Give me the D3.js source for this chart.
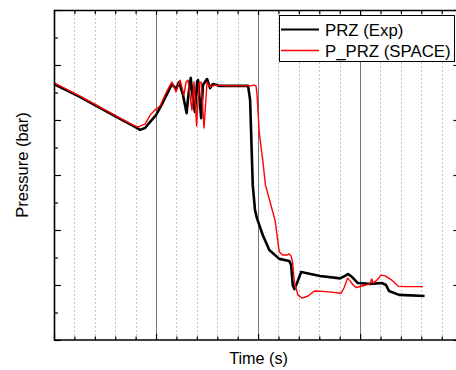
<!DOCTYPE html>
<html>
<head>
<meta charset="utf-8">
<script src="https://cdn.jsdelivr.net/npm/d3@7"></script>
<style>
  body { margin: 0; background: #fff; }
  text { font-family: "Liberation Sans", Arial, sans-serif; }
</style>
</head>
<body>
<div id="wrapper"></div>
<script>
// experimental PRZ pressure (black, noisy)
const timeExp = [0, 127, 225, 324, 397, 422, 446, 471, 500, 529, 559, 578, 598, 613, 632, 650, 657, 670, 681, 691, 701, 706, 721, 730, 740, 750, 765, 779, 814, 887, 951, 961, 974, 985, 994, 1023, 1055, 1104, 1153, 1162, 1170, 1178, 1191, 1211, 1304, 1402, 1426, 1441, 1461, 1489, 1544, 1608, 1627, 1642, 1691, 1816];
const presExp = [9.31, 8.84, 8.44, 8.04, 7.75, 7.64, 7.71, 7.93, 8.18, 8.58, 9.02, 9.31, 9.13, 9.38, 8.91, 8.25, 8.80, 9.53, 8.73, 8.29, 9.38, 9.45, 8.07, 9.27, 9.38, 9.49, 9.16, 9.31, 9.24, 9.24, 9.24, 8.73, 5.64, 4.73, 4.44, 3.82, 3.27, 2.95, 2.87, 2.73, 2.00, 1.85, 2.07, 2.47, 2.33, 2.24, 2.33, 2.40, 2.29, 2.07, 2.04, 2.07, 2.00, 1.78, 1.64, 1.60];

// SPACE code result (red)
const timeSpace = [0, 127, 225, 324, 397, 412, 446, 471, 495, 520, 544, 569, 578, 598, 618, 637, 647, 657, 676, 686, 699, 711, 721, 735, 750, 765, 789, 863, 961, 980, 990, 995, 1006, 1023, 1036, 1059, 1083, 1093, 1104, 1121, 1142, 1153, 1162, 1169, 1178, 1195, 1216, 1245, 1276, 1333, 1407, 1421, 1439, 1451, 1466, 1480, 1529, 1549, 1557, 1564, 1583, 1603, 1623, 1655, 1686, 1721, 1808];
const presSpace = [9.35, 8.87, 8.47, 8.07, 7.78, 7.75, 7.85, 8.18, 8.36, 8.51, 8.91, 9.27, 9.38, 9.02, 9.45, 8.91, 9.38, 9.45, 8.36, 9.38, 7.78, 9.35, 9.38, 7.71, 9.38, 9.20, 9.27, 9.24, 9.24, 9.27, 9.24, 8.91, 7.53, 6.55, 5.64, 5.02, 4.36, 3.82, 3.20, 3.09, 3.09, 3.13, 3.05, 2.84, 2.11, 1.64, 1.52, 1.60, 1.78, 1.76, 1.70, 1.89, 2.25, 2.15, 2.00, 1.91, 2.00, 2.05, 2.22, 2.07, 2.18, 2.36, 2.33, 2.18, 1.96, 1.94, 1.94];

const seriesNames = ["PRZ (Exp)", "P_PRZ (SPACE)"];

// ticks (labels are not shown in the original)
const xMajorTicks = [0, 500, 1000, 1500];
const xMinorTicks = d3.range(100, 1970, 100).filter(t => t % 500 !== 0);
const yMajorTicks = [0, 2, 4, 6, 8, 10, 12];
const yMinorTicks = [1, 3, 5, 7, 9, 11];

function drawChart() {
  let dimensions = {
    width: 456,
    height: 370,
    margins: { top: 10, left: 54, bottom: 30, right: 0 }
  };
  dimensions.boundedWidth = dimensions.width - dimensions.margins.left - dimensions.margins.right;
  dimensions.boundedHeight = dimensions.height - dimensions.margins.top - dimensions.margins.bottom;

  const svg = d3.select("#wrapper").append("svg")
    .attr("width", dimensions.width)
    .attr("height", dimensions.height);

  const bounds = svg.append("g")
    .attr("transform", `translate(${dimensions.margins.left},${dimensions.margins.top})`);

  const xScale = d3.scaleLinear()
    .domain([0, 1970])
    .range([0, dimensions.boundedWidth]);

  const yScale = d3.scaleLinear()
    .domain([0, 12])
    .range([dimensions.boundedHeight, 0]);

  // vertical grid lines
  bounds.append("g")
    .selectAll("line")
    .data(xMinorTicks)
    .join("line")
    .attr("x1", d => Math.round(xScale(d)) + 0.5)
    .attr("x2", d => Math.round(xScale(d)) + 0.5)
    .attr("y1", 0)
    .attr("y2", dimensions.boundedHeight)
    .attr("stroke", "#c4c4c4")
    .attr("stroke-dasharray", "2,2");

  bounds.append("g")
    .selectAll("line")
    .data(xMajorTicks.slice(1))
    .join("line")
    .attr("x1", d => Math.round(xScale(d)) + 0.5)
    .attr("x2", d => Math.round(xScale(d)) + 0.5)
    .attr("y1", 0)
    .attr("y2", dimensions.boundedHeight)
    .attr("stroke", "#777");

  // lines
  const expData = timeExp.map((t, i) => ({ t, p: presExp[i] }));
  const spaceData = timeSpace.map((t, i) => ({ t, p: presSpace[i] }));

  const lineGenerator = d3.line()
    .x(d => xScale(d.t))
    .y(d => yScale(d.p));

  bounds.append("path")
    .attr("d", lineGenerator(expData))
    .attr("fill", "none")
    .attr("stroke", "#000")
    .attr("stroke-width", 2.6)
    .attr("stroke-linejoin", "round");

  bounds.append("path")
    .attr("d", lineGenerator(spaceData))
    .attr("fill", "none")
    .attr("stroke", "#ff0000")
    .attr("stroke-width", 1.4)
    .attr("stroke-linejoin", "round");

  // axes, ticks pointing inside, no labels
  const tickAxis = (gen, values, size, transform) => {
    const g = bounds.append("g")
      .attr("transform", transform)
      .call(gen.tickValues(values).tickSize(size).tickFormat(""));
    g.select(".domain").remove();
    g.selectAll(".tick line").attr("stroke-width", 1.2);
    return g;
  };
  const bh = dimensions.boundedHeight;
  tickAxis(d3.axisBottom(xScale), xMinorTicks, -3.5, `translate(0,${bh})`);
  tickAxis(d3.axisBottom(xScale), xMajorTicks, -6, `translate(0,${bh})`);
  tickAxis(d3.axisTop(xScale), xMinorTicks, -4, "translate(0,0)");
  tickAxis(d3.axisTop(xScale), xMajorTicks, -5, "translate(0,0)");
  tickAxis(d3.axisLeft(yScale), yMinorTicks, -4, "translate(0,0)");
  tickAxis(d3.axisLeft(yScale), yMajorTicks, -7, "translate(0,0)");
  tickAxis(d3.axisRight(yScale), yMajorTicks, -2.5, `translate(${dimensions.boundedWidth},0)`);

  // frame
  bounds.append("path")
    .attr("d", `M${dimensions.boundedWidth},0.5H0.5V${bh}H${dimensions.boundedWidth}`)
    .attr("fill", "none")
    .attr("stroke", "#000")
    .attr("stroke-width", 1.6);

  // legend
  const legend = svg.append("g").attr("transform", "translate(279,15)");
  legend.append("rect")
    .attr("x", 0.5).attr("y", 0.5)
    .attr("width", 175).attr("height", 46)
    .attr("fill", "#fff")
    .attr("stroke", "#000");
  const legendColors = ["#000", "#ff0000"];
  const legendWidths = [2, 1.5];
  seriesNames.forEach((name, i) => {
    const cy = 14.5 + i * 21;
    legend.append("line")
      .attr("x1", 2).attr("x2", 40)
      .attr("y1", cy).attr("y2", cy)
      .attr("stroke", legendColors[i])
      .attr("stroke-width", legendWidths[i]);
    legend.append("text")
      .attr("x", 46).attr("y", cy + 6)
      .attr("font-size", 16.8)
      .attr("fill", "#000")
      .text(name);
  });

  // axis titles
  svg.append("text")
    .attr("x", 258.5).attr("y", 364)
    .attr("text-anchor", "middle")
    .attr("font-size", 16.2)
    .text("Time (s)");

  svg.append("text")
    .attr("transform", "translate(27.5,165) rotate(-90)")
    .attr("text-anchor", "middle")
    .attr("font-size", 16.5)
    .text("Pressure (bar)");
}

drawChart();
</script>
</body>
</html>
